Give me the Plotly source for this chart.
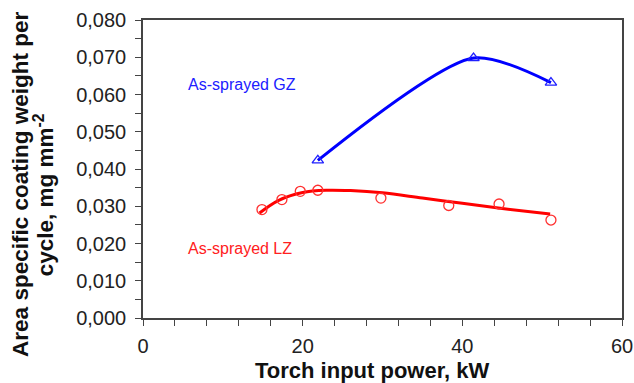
import plotly.graph_objects as go

# Data
gz_power = [21.9, 41.4, 51.1]
gz_weight = [0.0423, 0.0698, 0.0632]

lz_power = [14.9, 17.4, 19.7, 21.9, 29.8, 38.3, 44.6, 51.1]
lz_weight = [0.0291, 0.0318, 0.0340, 0.0343, 0.0322, 0.0302, 0.0306, 0.0263]

# Red trend curve as drawn in the picture
lz_fit_power = [14.6, 17, 20, 23, 26, 30, 35, 40, 45, 51]
lz_fit_weight = [0.0282, 0.0316, 0.0337, 0.0343, 0.0342, 0.0336, 0.0322, 0.0308, 0.0294, 0.0279]

x_ticks = [0, 20, 40, 60]
y_ticks = [0.0, 0.01, 0.02, 0.03, 0.04, 0.05, 0.06, 0.07, 0.08]

FONT = "Liberation Sans, Arial, sans-serif"

fig = go.Figure()
fig.add_trace(go.Scatter(x=lz_fit_power, y=lz_fit_weight, mode="lines",
                         line=dict(color="#ff0000", width=3, shape="spline"),
                         showlegend=False, hoverinfo="skip"))
fig.add_trace(go.Scatter(x=lz_power, y=lz_weight, mode="markers",
                         marker=dict(symbol="circle-open", size=10, color="#ff3030",
                                     line=dict(width=1.3)),
                         showlegend=False))
fig.add_trace(go.Scatter(x=gz_power, y=gz_weight, mode="lines+markers",
                         line=dict(color="#0000ff", width=3, shape="spline", smoothing=0.75),
                         marker=dict(symbol="triangle-up-open", size=10, color="#2020ff",
                                     line=dict(width=1.3)),
                         showlegend=False))

fig.add_annotation(x=5.4, y=0.0626, text="As-sprayed GZ", showarrow=False, xanchor="left",
                   font=dict(color="#2020ff", size=16, family=FONT))
fig.add_annotation(x=5.4, y=0.0186, text="As-sprayed LZ", showarrow=False, xanchor="left",
                   font=dict(color="#ff2020", size=16, family=FONT))

# y-axis title, two rotated lines
fig.add_annotation(xref="paper", yref="paper", x=-0.2547, y=0.45,
                   text="<b>Area specific coating weight per</b>", textangle=-90,
                   showarrow=False, xanchor="center", yanchor="middle",
                   font=dict(size=22.5, color="#111111", family=FONT))
fig.add_annotation(xref="paper", yref="paper", x=-0.2067, y=0.415,
                   text="<b>cycle, mg mm<sup>-2</sup></b>", textangle=-90,
                   showarrow=False, xanchor="center", yanchor="middle",
                   font=dict(size=22.5, color="#111111", family=FONT))
# x-axis title
fig.add_annotation(xref="paper", yref="paper", x=0.478, y=-0.175,
                   text="<b>Torch input power, kW</b>",
                   showarrow=False, xanchor="center", yanchor="middle",
                   font=dict(size=22, color="#111111", family=FONT))

axis_common = dict(showgrid=False, zeroline=False, showline=True, linecolor="#444444",
                   linewidth=1.5, mirror=True, ticks="outside", tickcolor="#444444",
                   ticklen=6, tickwidth=1, automargin=False,
                   tickfont=dict(size=20, color="#222222", family=FONT))

fig.update_layout(
    width=634, height=383,
    margin=dict(l=143, r=12, t=20, b=65),
    paper_bgcolor="white", plot_bgcolor="white",
    separators=",.",
    font=dict(family=FONT),
    xaxis=dict(range=[0, 60], tickvals=x_ticks,
               minor=dict(dtick=4, ticks="outside", ticklen=6, tickcolor="#444444"),
               ticklabelstandoff=3,
               **axis_common),
    yaxis=dict(range=[0, 0.08], tickvals=y_ticks, tickformat=".3f",
               minor=dict(dtick=0.005, ticks="outside", ticklen=6, tickcolor="#444444"),
               ticklabelstandoff=5,
               **axis_common),
)

fig.write_html("out.html", config={"displayModeBar": False},
               post_script="document.body.style.margin='0';")
